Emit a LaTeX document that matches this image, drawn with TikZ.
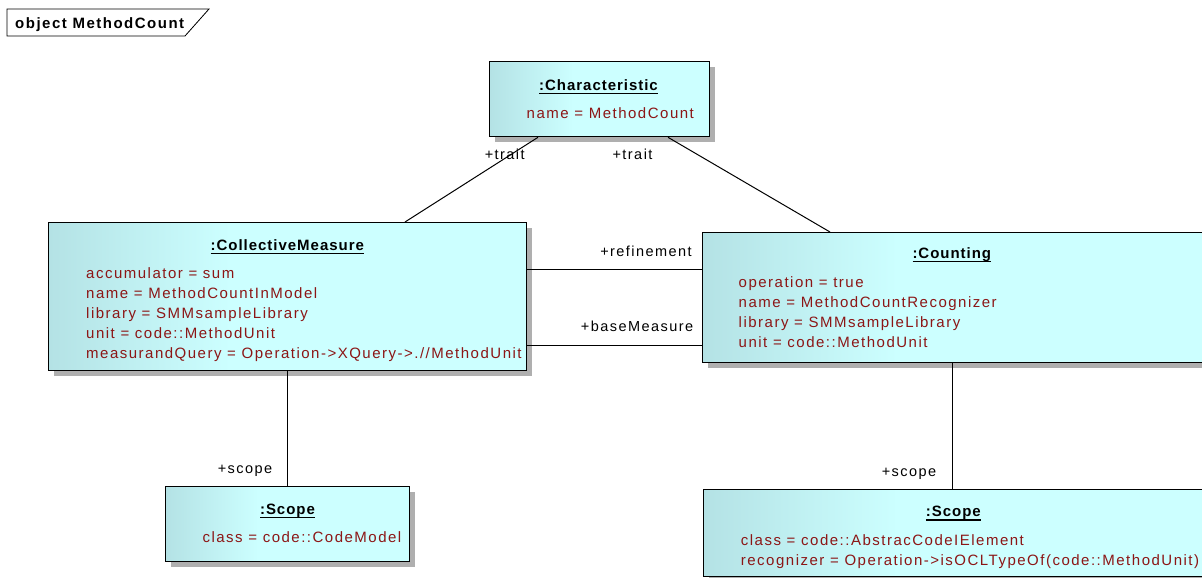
\documentclass[tikz,border=0pt]{standalone}
\usepackage{fontspec}
\setmainfont{Liberation Sans}[LetterSpace=10]
\newfontfamily\titlefont{Liberation Sans}[LetterSpace=6.5]
\usetikzlibrary{calc,shadows}

\definecolor{attrred}{RGB}{140,22,22}
\definecolor{fillL}{RGB}{180,226,229}
\definecolor{fillR}{RGB}{204,255,255}
\definecolor{shadowgray}{RGB}{175,175,175}
% light band on the left, plain cyan for the rest of the box
\pgfdeclarehorizontalshading{objshade}{100bp}{color(0bp)=(fillL); color(25bp)=(fillL); color(44bp)=(fillR); color(100bp)=(fillR)}

\newcommand\objtitle[1]{\setbox0\hbox{\titlefont\bfseries #1}\rlap{\rule[-4pt]{\wd0}{1.3pt}}\box0}

\tikzset{
  objbox/.style={draw=black, line width=1.3pt, shading=objshade, inner sep=0pt,
    anchor=north west,
    drop shadow={shadow xshift=5pt, shadow yshift=-5pt, fill=shadowgray, opacity=1}},
  title/.style={anchor=base, inner sep=0pt, font=\fontsize{15}{18}\selectfont},
  attr/.style={anchor=base west, inner sep=0pt, text=attrred, font=\fontsize{15}{18}\selectfont},
  role/.style={anchor=base, inner sep=0pt, font=\fontsize{14.5}{17}\selectfont},
  link/.style={draw=black, line width=1pt},
}

\begin{document}
\begin{tikzpicture}[x=1pt,y=-1pt]
\useasboundingbox (0,0) rectangle (1202,578);
\fill[white] (0,0) rectangle (1202,578);
\clip (0,0) rectangle (1202,578);

% diagram frame tab
\draw[line width=0.8pt] (7,9) -- (209,9) -- (185,36) -- (7,36) -- cycle;
\node[anchor=base west, inner sep=0pt, font=\fontsize{15}{17}\selectfont\bfseries] (hdr) at (15,28.5) {object MethodCount};

% object boxes
\node[objbox, minimum width=220pt, minimum height=75pt] (char) at (489,61) {};
\node[objbox, minimum width=478pt, minimum height=148pt] (cm) at (48,222) {};
\node[objbox, minimum width=513pt, minimum height=130pt] (cnt) at (702,232) {};
\node[objbox, minimum width=244pt, minimum height=75pt] (sl) at (165,486) {};
\node[objbox, minimum width=512pt, minimum height=87pt] (sr) at (703,489) {};

% :Characteristic
\node[title] (charT) at (598.5,90) {\objtitle{:Characteristic}};
\node[attr] (charA) at (526.5,118.3) {name = MethodCount};

% :CollectiveMeasure
\node[title] (cmT) at (287.3,250) {\objtitle{:CollectiveMeasure}};
\node[attr] (cmA1) at (86,278) {accumulator = sum};
\node[attr] (cmA2) at (86,298) {name = MethodCountInModel};
\node[attr] (cmA3) at (86,318) {library = SMMsampleLibrary};
\node[attr] (cmA4) at (86,338) {unit = code::MethodUnit};
\node[attr] (cmA5) at (86,358) {measurandQuery = Operation->XQuery->.//MethodUnit};

% :Counting
\node[title] (cntT) at (951.8,258.3) {\objtitle{:Counting}};
\node[attr] (cntA1) at (738.5,287.7) {operation = true};
\node[attr] (cntA2) at (738.5,307.7) {name = MethodCountRecognizer};
\node[attr] (cntA3) at (738.5,327.7) {library = SMMsampleLibrary};
\node[attr] (cntA4) at (738.5,347.5) {unit = code::MethodUnit};

% :Scope (left)
\node[title] (slT) at (287.5,514.3) {\objtitle{:Scope}};
\node[attr] (slA) at (202.3,542.3) {class = code::CodeModel};

% :Scope (right)
\node[title] (srT) at (953.3,516.7) {\objtitle{:Scope}};
\node[attr] (srA1) at (740.7,545) {class = code::AbstracCodeIElement};
\node[attr] (srA2) at (740.7,565) {recognizer = Operation->isOCLTypeOf(code::MethodUnit)};

% links
\draw[link] ([xshift=49pt]char.south west) -- ([xshift=357pt]cm.north west);
\draw[link] ([xshift=179pt]char.south west) -- ([xshift=128pt]cnt.north west);
\coordinate (ref) at ($(cm.north east)+(0,47)$);
\draw[link] (ref) -- (ref -| cnt.west);
\coordinate (base) at ($(cm.north east)+(0,123)$);
\draw[link] (base) -- (base -| cnt.west);
\draw[link] (cm.south) -- (sl.north);
\coordinate (cntS) at ($(cnt.south west)+(250,0)$);
\draw[link] (cntS) -- (cntS |- sr.north);

% role names
\node[role] (r1) at (504.7,159) {+trait};
\node[role] (r2) at (632.5,159) {+trait};
\node[role] (r3) at (646,256) {+refinement};
\node[role] (r4) at (637,331) {+baseMeasure};
\node[role] (r5) at (245,473) {+scope};
\node[role] (r6) at (909,476) {+scope};
\end{tikzpicture}
\end{document}
